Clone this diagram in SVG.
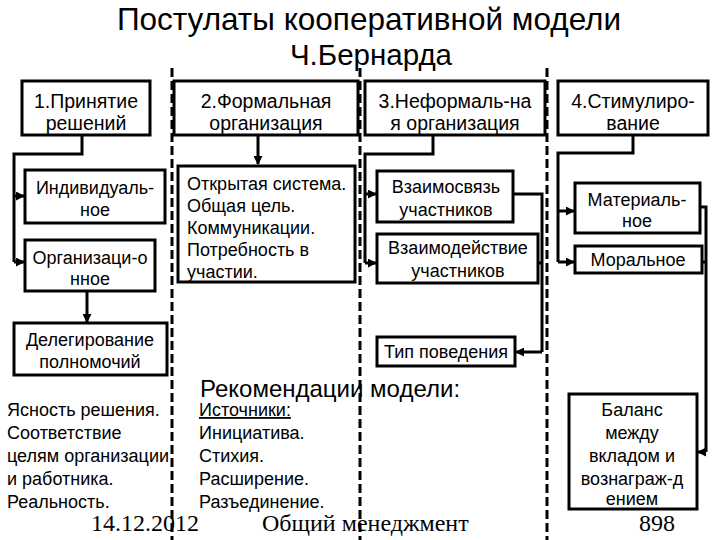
<svg xmlns="http://www.w3.org/2000/svg" width="720" height="540" viewBox="0 0 720 540">
<defs>
<style>
.t{font-family:"Liberation Sans",Arial,sans-serif;fill:#000}
.h{font-size:19.5px;text-anchor:middle}
.b{font-size:18px}
.c{text-anchor:middle}
.box{fill:#fff;stroke:#000;stroke-width:3}
.ln{fill:none;stroke:#000;stroke-width:3}
.dash{fill:none;stroke:#000;stroke-width:3;stroke-dasharray:9 4}
.f{font-family:"Liberation Serif","Times New Roman",serif;font-size:24px;fill:#000}
</style>
<marker id="ar" viewBox="0 0 10 10" refX="9" refY="5" markerWidth="3" markerHeight="3" orient="auto">
<path d="M0,0 L10,5 L0,10 z" fill="#000"/>
</marker>
</defs>
<rect width="720" height="540" fill="#fff"/>
<g id="title" class="t" text-anchor="middle">
<text x="369" y="30" font-size="31.5">Постулаты кооперативной модели</text>
<text x="371" y="65" font-size="29.5">Ч.Бернарда</text>
</g>
<g id="dividers">
<line class="dash" x1="172" y1="68" x2="172" y2="540"/>
<line class="dash" x1="360" y1="68" x2="360" y2="540"/>
<line class="dash" x1="547" y1="68" x2="547" y2="540"/>
</g>
<g id="connectors">
<polyline class="ln" points="82,135 82,154 14,154 14,262"/>
<line class="ln" x1="14" y1="196" x2="24" y2="196" marker-end="url(#ar)"/>
<line class="ln" x1="14" y1="262" x2="24" y2="262" marker-end="url(#ar)"/>
<line class="ln" x1="87" y1="291" x2="87" y2="322" marker-end="url(#ar)"/>
<line class="ln" x1="258" y1="135" x2="258" y2="164" marker-end="url(#ar)"/>
<polyline class="ln" points="433,135 433,154 365,154 365,263"/>
<line class="ln" x1="365" y1="194" x2="376" y2="194" marker-end="url(#ar)"/>
<line class="ln" x1="365" y1="263" x2="376" y2="263" marker-end="url(#ar)"/>
<polyline class="ln" points="513,194 542,194 542,352"/>
<line class="ln" x1="537" y1="263" x2="542" y2="263"/>
<line class="ln" x1="542" y1="352" x2="516" y2="352" marker-end="url(#ar)"/>
<polyline class="ln" points="633,135 633,153 558,153 558,262"/>
<line class="ln" x1="558" y1="211" x2="574" y2="211" marker-end="url(#ar)"/>
<line class="ln" x1="558" y1="262" x2="574" y2="262" marker-end="url(#ar)"/>
<polyline class="ln" points="700,207 706,207 706,452"/>
<line class="ln" x1="702" y1="262" x2="706" y2="262"/>
<line class="ln" x1="706" y1="452" x2="698" y2="452" marker-end="url(#ar)"/>
</g>
<g id="n1">
<rect class="box" x="22" y="81" width="128" height="54"/>
<text class="t h" x="86" y="108">1.Принятие</text>
<text class="t h" x="86" y="130">решений</text>
</g>
<g id="n2">
<rect class="box" x="174" y="81" width="184" height="54"/>
<text class="t h" x="266" y="108">2.Формальная</text>
<text class="t h" x="266" y="130">организация</text>
</g>
<g id="n3">
<rect class="box" x="365" y="81" width="180" height="54"/>
<text class="t h" x="455" y="108">3.Неформаль-на</text>
<text class="t h" x="455" y="130">я организация</text>
</g>
<g id="n4">
<rect class="box" x="558" y="81" width="150" height="54"/>
<text class="t h" x="633" y="108">4.Стимулиро-</text>
<text class="t h" x="633" y="130">вание</text>
</g>
<g id="n1a">
<rect class="box" x="25" y="170" width="140" height="53"/>
<text class="t b c" x="95" y="194">Индивидуаль-</text>
<text class="t b c" x="95" y="216">ное</text>
</g>
<g id="n1b">
<rect class="box" x="25" y="240" width="130" height="51"/>
<text class="t b c" x="90" y="264">Организаци-о</text>
<text class="t b c" x="90" y="285">нное</text>
</g>
<g id="n1c">
<rect class="box" x="14" y="323" width="153" height="52"/>
<text class="t b c" x="90" y="346">Делегирование</text>
<text class="t b c" x="90" y="368">полномочий</text>
</g>
<g id="n2a">
<rect class="box" x="178" y="166" width="177" height="116"/>
<text class="t b" x="187" y="190">Открытая система.</text>
<text class="t b" x="187" y="212">Общая цель.</text>
<text class="t b" x="187" y="234">Коммуникации.</text>
<text class="t b" x="187" y="256">Потребность в</text>
<text class="t b" x="187" y="278">участии.</text>
</g>
<g id="n3a">
<rect class="box" x="377" y="171" width="136" height="51"/>
<text class="t b c" x="446" y="193">Взаимосвязь</text>
<text class="t b c" x="446" y="216">участников</text>
</g>
<g id="n3b">
<rect class="box" x="377" y="234" width="161" height="49"/>
<text class="t b c" x="458" y="254">Взаимодействие</text>
<text class="t b c" x="458" y="277">участников</text>
</g>
<g id="n3c">
<rect class="box" x="377" y="337" width="138" height="29"/>
<text class="t b c" x="446" y="358">Тип поведения</text>
</g>
<g id="n4a">
<rect class="box" x="575" y="183" width="125" height="50"/>
<text class="t b c" x="637" y="206">Материаль-</text>
<text class="t b c" x="637" y="227">ное</text>
</g>
<g id="n4b">
<rect class="box" x="575" y="246" width="127" height="27"/>
<text class="t b c" x="638" y="266">Моральное</text>
</g>
<g id="n4c">
<rect class="box" x="569" y="394" width="128" height="115"/>
<text class="t b c" x="632" y="416">Баланс</text>
<text class="t b c" x="632" y="439">между</text>
<text class="t b c" x="632" y="462">вкладом и</text>
<text class="t b c" x="632" y="485">вознаграж-д</text>
<text class="t b c" x="632" y="505">ением</text>
</g>
<g id="recs">
<text class="t" font-size="24" x="200" y="397">Рекомендации модели:</text>
<text class="t b" x="7" y="416">Ясность решения.</text>
<text class="t b" x="7" y="439">Соответствие</text>
<text class="t b" x="7" y="462">целям организации</text>
<text class="t b" x="7" y="485">и работника.</text>
<text class="t b" x="7" y="508">Реальность.</text>
<text class="t b" x="199" y="416" text-decoration="underline">Источники:</text>
<text class="t b" x="199" y="439">Инициатива.</text>
<text class="t b" x="199" y="462">Стихия.</text>
<text class="t b" x="199" y="485">Расширение.</text>
<text class="t b" x="199" y="508">Разъединение.</text>
</g>
<g id="footer">
<text class="f" x="91" y="531">14.12.2012</text>
<text class="f" x="262" y="531">Общий менеджмент</text>
<text class="f" x="675" y="531" text-anchor="end">898</text>
</g>
</svg>
